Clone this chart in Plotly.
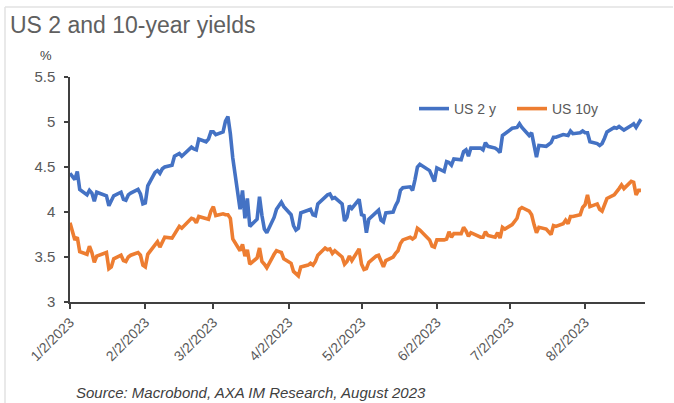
import pandas as pd
import plotly.graph_objects as go

# US Treasury closing yields (%), business days 2 Jan - 25 Aug 2023
holidays = ["2023-01-16", "2023-02-20", "2023-05-29", "2023-06-19", "2023-07-04"]
dates = pd.bdate_range("2023-01-02", "2023-08-25", freq="C", holidays=holidays)

us2y_jan = [4.43, 4.40, 4.36, 4.45, 4.25, 4.19, 4.24, 4.21, 4.12, 4.22, 4.18,
            4.07, 4.12, 4.18, 4.22, 4.14, 4.13, 4.19, 4.21, 4.25, 4.20]
us2y_feb = [4.09, 4.10, 4.29, 4.44, 4.46, 4.43, 4.48, 4.50, 4.52, 4.62, 4.63,
            4.65, 4.62, 4.72, 4.70, 4.69, 4.81, 4.78, 4.81]
us2y_mar = [4.89, 4.89, 4.86, 4.89, 5.01, 5.06, 4.87, 4.60, 4.03, 4.24, 3.93,
            4.15, 3.84, 3.92, 4.17, 3.96, 3.81, 3.77, 3.94, 4.03, 4.07, 4.11, 4.06]
us2y_apr = [3.97, 3.85, 3.80, 3.82, 3.99, 4.02, 4.03, 3.97, 3.96, 4.09, 4.17,
            4.19, 4.20, 4.15, 4.16, 4.09, 3.90, 3.94, 4.07, 4.04]
us2y_may = [4.14, 3.97, 3.96, 3.77, 3.92, 4.00, 4.02, 3.91, 3.89, 3.99, 4.00,
            4.07, 4.12, 4.24, 4.27, 4.28, 4.24, 4.36, 4.50, 4.53, 4.46, 4.40]
us2y_jun = [4.34, 4.49, 4.45, 4.56, 4.55, 4.52, 4.59, 4.58, 4.67, 4.69, 4.62,
            4.71, 4.71, 4.69, 4.77, 4.73, 4.71, 4.69, 4.66, 4.85, 4.87]
us2y_jul = [4.93, 4.94, 4.98, 4.94, 4.85, 4.88, 4.74, 4.61, 4.74, 4.73, 4.75,
            4.77, 4.83, 4.83, 4.86, 4.86, 4.85, 4.90, 4.87, 4.88]
us2y_aug = [4.90, 4.88, 4.88, 4.78, 4.76, 4.74, 4.76, 4.82, 4.89, 4.94, 4.93,
            4.95, 4.93, 4.91, 4.96, 4.98, 4.94, 4.99, 5.03]

us10y_jan = [3.88, 3.79, 3.69, 3.72, 3.56, 3.53, 3.62, 3.55, 3.44, 3.51, 3.55,
             3.37, 3.39, 3.48, 3.52, 3.46, 3.45, 3.50, 3.52, 3.55, 3.52]
us10y_feb = [3.41, 3.39, 3.53, 3.64, 3.67, 3.61, 3.66, 3.72, 3.71, 3.76, 3.81,
             3.84, 3.82, 3.93, 3.92, 3.88, 3.95, 3.92, 3.92]
us10y_mar = [4.01, 4.06, 3.96, 3.98, 3.97, 3.97, 3.93, 3.70, 3.57, 3.64, 3.51,
             3.58, 3.42, 3.49, 3.60, 3.45, 3.42, 3.38, 3.53, 3.57, 3.56, 3.55, 3.48]
us10y_apr = [3.43, 3.34, 3.31, 3.29, 3.39, 3.41, 3.43, 3.41, 3.45, 3.52, 3.60,
             3.58, 3.59, 3.54, 3.57, 3.50, 3.42, 3.45, 3.51, 3.46]
us10y_may = [3.59, 3.42, 3.36, 3.37, 3.44, 3.51, 3.52, 3.44, 3.39, 3.46, 3.50,
             3.54, 3.57, 3.65, 3.69, 3.72, 3.70, 3.72, 3.82, 3.80, 3.69, 3.62]
us10y_jun = [3.61, 3.69, 3.69, 3.70, 3.78, 3.72, 3.76, 3.76, 3.83, 3.79, 3.73,
             3.77, 3.72, 3.72, 3.78, 3.74, 3.72, 3.77, 3.71, 3.83, 3.81]
us10y_jul = [3.86, 3.93, 4.03, 4.05, 4.01, 3.97, 3.86, 3.77, 3.83, 3.81, 3.78,
             3.75, 3.85, 3.84, 3.87, 3.91, 3.87, 3.95, 3.95, 3.97]
us10y_aug = [4.05, 4.08, 4.19, 4.06, 4.09, 4.03, 4.01, 4.09, 4.15, 4.19, 4.22,
             4.26, 4.30, 4.26, 4.34, 4.33, 4.19, 4.24, 4.24]

us2y = (us2y_jan + us2y_feb + us2y_mar + us2y_apr + us2y_may + us2y_jun
        + us2y_jul + us2y_aug)
us10y = (us10y_jan + us10y_feb + us10y_mar + us10y_apr + us10y_may + us10y_jun
         + us10y_jul + us10y_aug)
assert len(us2y) == len(dates) == len(us10y)

tick_dates = ["2023-01-02", "2023-02-02", "2023-03-02", "2023-04-02",
              "2023-05-02", "2023-06-02", "2023-07-02", "2023-08-02"]
tick_text = ["1/2/2023", "2/2/2023", "3/2/2023", "4/2/2023",
             "5/2/2023", "6/2/2023", "7/2/2023", "8/2/2023"]
y_ticks = [3, 3.5, 4, 4.5, 5, 5.5]

title_text = "US 2 and 10-year yields"
unit_text = "%"
source_text = "Source: Macrobond, AXA IM Research, August 2023"

BLUE = "#4472C4"
ORANGE = "#ED7D31"
GREY = "#595959"
FONT = "Liberation Sans, Arial, sans-serif"

# plot-area pixel geometry
W, H = 674, 403
L, R, T, B = 70, 29, 77, 101
pw, ph = W - L - R, H - T - B


def px(x):
    return (x - L) / pw


def py(y):
    return (H - B - y) / ph


fig = go.Figure()
fig.add_trace(go.Scatter(x=dates, y=us2y, mode="lines", name="US 2 y",
                         line=dict(color=BLUE, width=3.6)))
fig.add_trace(go.Scatter(x=dates, y=us10y, mode="lines", name="US 10y",
                         line=dict(color=ORANGE, width=3.6)))

axis_line = dict(showline=True, linecolor="#404040", linewidth=1.5,
                 ticks="outside", tickcolor="#404040", tickwidth=1.5,
                 showgrid=False, zeroline=False)

fig.update_xaxes(type="date", range=["2023-01-02", "2023-08-26 16:00"],
                 tickvals=tick_dates, ticktext=tick_text, tickangle=-45,
                 ticklen=5, tickfont=dict(family=FONT, size=14, color=GREY),
                 **axis_line)
fig.update_yaxes(range=[3, 5.5], tickvals=y_ticks,
                 ticktext=[f"{v:g}" for v in y_ticks], ticklen=4,
                 tickfont=dict(family=FONT, size=15, color=GREY),
                 ticklabelstandoff=6, **axis_line)

fig.update_layout(
    width=W, height=H,
    margin=dict(l=L, r=R, t=T, b=B, autoexpand=False),
    paper_bgcolor="white", plot_bgcolor="white",
    showlegend=True,
    legend=dict(orientation="h", x=px(414), y=py(93), xanchor="left",
                yanchor="top", bgcolor="rgba(0,0,0,0)",
                font=dict(family=FONT, size=14, color=GREY),
                entrywidth=53, entrywidthmode="pixels", itemwidth=30),
    shapes=[
        dict(type="line", xref="paper", yref="paper",
             x0=px(5), x1=px(673), y0=py(7), y1=py(7),
             line=dict(color="#E2E2E2", width=1.5)),
        dict(type="line", xref="paper", yref="paper",
             x0=px(5), x1=px(5), y0=py(7), y1=py(403),
             line=dict(color="#E2E2E2", width=1.5)),
    ],
    annotations=[
        dict(text=title_text, xref="paper", yref="paper", x=px(8), y=py(40),
             xanchor="left", yanchor="bottom", showarrow=False,
             font=dict(family=FONT, size=23, color="#606060")),
        dict(text=unit_text, xref="paper", yref="paper", x=px(46), y=py(65),
             xanchor="center", yanchor="bottom", showarrow=False,
             font=dict(family=FONT, size=13, color="#404040")),
        dict(text="<i>" + source_text + "</i>", xref="paper", yref="paper",
             x=px(74), y=py(403), xanchor="left", yanchor="bottom",
             showarrow=False,
             font=dict(family=FONT, size=15, color="#404040")),
    ],
)

fig.write_html("out.html")
